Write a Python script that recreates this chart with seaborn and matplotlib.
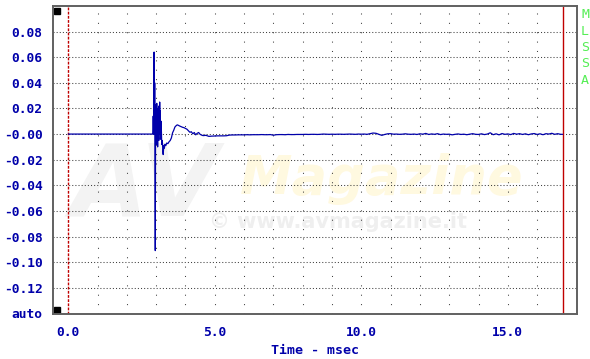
import numpy as np
import pandas as pd
import seaborn as sns
import matplotlib.pyplot as plt

# impulse region (time in msec, amplitude in units of 1e-3)
head_t = [0.0, 2.89, 2.90, 2.91, 2.92, 2.93, 2.94, 2.95, 2.96, 2.97, 2.98, 2.99,
          3.00, 3.01, 3.02, 3.03, 3.04, 3.05, 3.06, 3.07, 3.08, 3.09, 3.10, 3.11,
          3.12, 3.13, 3.14, 3.15, 3.17, 3.19, 3.21, 3.23, 3.24, 3.26, 3.28, 3.30,
          3.33, 3.36, 3.40, 3.44, 3.48, 3.52, 3.56, 3.60, 3.64, 3.68, 3.72, 3.76,
          3.80, 3.85, 3.90, 3.95, 4.00, 4.05, 4.10, 4.15, 4.20, 4.25, 4.30, 4.35,
          4.40, 4.45, 4.50, 4.55, 4.60, 4.70, 4.80, 4.90]
head_v = [0, 0, 14, 0, 10, 64, 0, 40, -10, -91, 10, -5,
          23, -8, 24, -3, 18, -10, 20, -2, 12, -5, 22, 0,
          25, 5, 18, -4, 10, -8, -5, -14, -16, -9, -11, -8,
          -9, -7, -7.5, -6, -5, -3, 1, 3, 5.5, 6.5, 7.2, 6.8,
          6.3, 5.8, 5.3, 5.0, 4.4, 3.8, 2.6, 1.4, 1.8, 0.2, 1.2, -0.6,
          0.6, 1.2, -0.2, -0.8, -1.2, -1.0, -1.8, -1.6]

# tail, sampled every 0.1 msec from 5.0 to 16.8 (units of 1e-3)
tail_t = np.round(np.arange(5.0, 16.85, 0.1), 2)
tail_v = [-1.5, -1.4, -1.4, -1.4, -1.3, -0.8, -0.7, -0.7, -0.6, -0.6,
          -0.6, -0.5, -0.6, -0.5, -0.5, -0.5, -0.4, -0.5, -0.5, -0.4,
          -0.9, -0.5, -0.4, -0.4, -0.5, -0.3, -0.4, -0.4, -0.3, -0.3,
          -0.3, -0.2, -0.3, -0.2, -0.2, -0.3, -0.2, 0.0, -0.1, -0.2,
          -0.1, -0.2, -0.1, -0.1, -0.2, -0.1, 0.0, -0.1, -0.2, 0.0,
          -0.1, 0.0, -0.2, 0.3, 0.8, 0.6, -0.2, -1.0, -0.3, 0.2,
          0.3, -0.1, 0.0, -0.2, -0.1, 0.2, -0.1, -0.2, 0.0, -0.3,
          0.2, -0.1, 0.5, -0.3, 0.1, -0.2, 0.3, -0.4, 0.0, -0.2,
          -0.1, -0.6, -0.2, 0.1, -0.3, -0.1, -0.5, -0.1, 0.3, -0.2,
          -0.3, 0.2, -0.4, 0.0, 1.0, -0.5, 0.2, -0.6, 0.4, -0.2,
          0.1, -0.4, 0.5, -0.1, 0.3, -0.3, 0.2, -0.5, 0.1, 0.4,
          -0.3, 0.2, -0.5, 0.3, 0.0, 0.6, -0.2, 0.3, -0.2]
end_t = 16.87

yticks = [-0.14, -0.12, -0.10, -0.08, -0.06, -0.04, -0.02, 0.0, 0.02, 0.04, 0.06, 0.08]
ylabels = ["auto", "-0.12", "-0.10", "-0.08", "-0.06", "-0.04", "-0.02", "-0.00",
           "0.02", "0.04", "0.06", "0.08"]
xticks = list(range(0, 17))

BLUE = "#0000AA"
RED = "#C00000"

df = pd.DataFrame({
    "t": list(head_t) + list(tail_t) + [end_t],
    "v": [v / 1000 for v in list(head_v) + list(tail_v) + [-0.2]],
})

sns.set_style("white")
plt.rcParams["font.family"] = ["DejaVu Sans Mono", "DejaVu Sans"]
fig = plt.figure(figsize=(5.9, 3.59), dpi=100)
ax = fig.add_axes([53 / 590, 1 - 314 / 359, 524 / 590, 308 / 359])

# watermark
ax.text(2.6, -0.042, "AV", fontsize=72, fontweight="bold", style="italic",
        color="#F3F3F3", ha="center", va="center", family="DejaVu Sans", zorder=0)
ax.text(10.7, -0.035, "Magazine", fontsize=38, fontweight="bold", style="italic",
        color="#FFF9E0", ha="center", va="center", family="DejaVu Sans", zorder=0)
ax.text(9.2, -0.069, "\u00a9 www.avmagazine.it", fontsize=15, fontweight="bold",
        color="#EFEFEF", ha="center", va="center", family="DejaVu Sans", zorder=0)

for y in yticks[1:]:
    ax.axhline(y, color="#404040", lw=0.75, dashes=(1, 2), zorder=1)
for x in xticks[1:]:
    ax.axvline(x, color="#404040", lw=0.75, dashes=(1, 8), zorder=1)

ax.axvline(0, color=RED, lw=1, dashes=(2, 1), zorder=2)
ax.axvline(end_t, color=RED, lw=1, zorder=2)

sns.lineplot(data=df, x="t", y="v", estimator=None, sort=False, color=BLUE,
             lw=0.9, ax=ax, zorder=3)

ax.set_xlim(-0.52, 17.36)
ax.set_ylim(-0.1405, 0.1)
ax.set_xticks(xticks)
ax.set_xticklabels([f"{t:.1f}" if t % 5 == 0 else "" for t in xticks])
ax.set_yticks(yticks)
ax.set_yticklabels(ylabels)
ax.tick_params(axis="both", direction="out", length=3.5, width=1, color="#606060",
               labelcolor=BLUE, labelsize=9.3)
ax.tick_params(axis="x", pad=5)
ax.tick_params(axis="y", pad=4)
for lab in ax.get_xticklabels() + ax.get_yticklabels():
    lab.set_fontweight("bold")
for s in ax.spines.values():
    s.set_color("#606060")
    s.set_linewidth(1.4)

ax.set_xlabel("Time - msec", color=BLUE, fontsize=9.5, fontweight="bold", labelpad=4)
ax.set_ylabel("")

# corner markers
ax.plot([0.008], [0.985], marker="s", ms=4.2, color="black", transform=ax.transAxes,
        clip_on=False)
ax.plot([0.008], [0.012], marker="s", ms=4.2, color="black", transform=ax.transAxes,
        clip_on=False)

for i, ch in enumerate("MLSSA"):
    fig.text(585 / 590, 1 - (15 + i * 16.3) / 359, ch, color="#55EE55", fontsize=9.5,
             ha="center", va="center")

fig.savefig("out.png", dpi=100)
